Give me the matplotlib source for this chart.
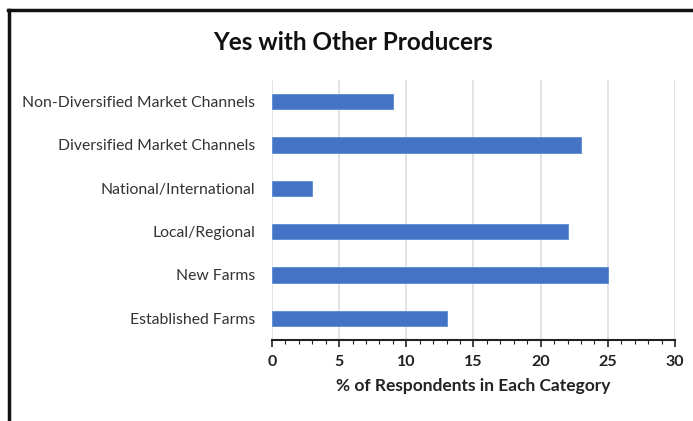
import matplotlib.pyplot as plt
from matplotlib.lines import Line2D
import numpy as np

categories = ['Established Farms', 'New Farms', 'Local/Regional',
              'National/International', 'Diversified Market Channels',
              'Non-Diversified Market Channels']
percent = [13, 25, 22, 3, 23, 9]
xticks = [0, 5, 10, 15, 20, 25, 30]

plt.rcParams['font.family'] = ['Lato', 'DejaVu Sans']

fig = plt.figure(figsize=(6.93, 4.21), dpi=100)
ax = fig.add_axes([0.3925, 0.1924, 0.5815, 0.6176])

y = np.arange(len(categories))
ax.barh(y, percent, height=0.35, color='#4472c4', edgecolor='#5b8ad6',
        linewidth=0.6, zorder=3)

ax.set_xlim(0, 30)
ax.set_ylim(-0.5, len(categories) - 0.5)
ax.set_xticks(xticks)
ax.set_xticks(np.arange(0, 31, 1), minor=True)
ax.set_xticklabels([str(t) for t in xticks], fontsize=11.5,
                   fontweight='bold', color='#222222')
ax.set_yticks(y)
ax.set_yticklabels(categories, fontsize=11.3, color='#333333')
ax.tick_params(axis='y', length=0, pad=12)
ax.tick_params(axis='x', which='major', length=5, width=1.2, pad=6,
               direction='out', color='#222222')
ax.tick_params(axis='x', which='minor', length=3, width=0.8,
               direction='out', color='#222222')

ax.grid(axis='x', which='major', color='#dddddd', linewidth=1.2, zorder=0)
for side in ['top', 'right', 'left']:
    ax.spines[side].set_visible(False)
ax.spines['bottom'].set_color('#222222')
ax.spines['bottom'].set_linewidth(1.5)

ax.set_xlabel('% of Respondents in Each Category', fontsize=12.5,
              fontweight='bold', color='#222222', labelpad=6)

fig.text(0.51, 0.90, 'Yes with Other Producers', ha='center', va='center',
         fontsize=17.5, fontweight='bold', color='#111111')

# frame lines along the left and top edges
fig.add_artist(Line2D([0.013, 0.013], [0.0, 0.976], transform=fig.transFigure,
                      color='#111111', linewidth=2.5))
fig.add_artist(Line2D([0.0115, 1.0], [0.976, 0.976], transform=fig.transFigure,
                      color='#111111', linewidth=2.5))

fig.savefig('out.png', dpi=100)
